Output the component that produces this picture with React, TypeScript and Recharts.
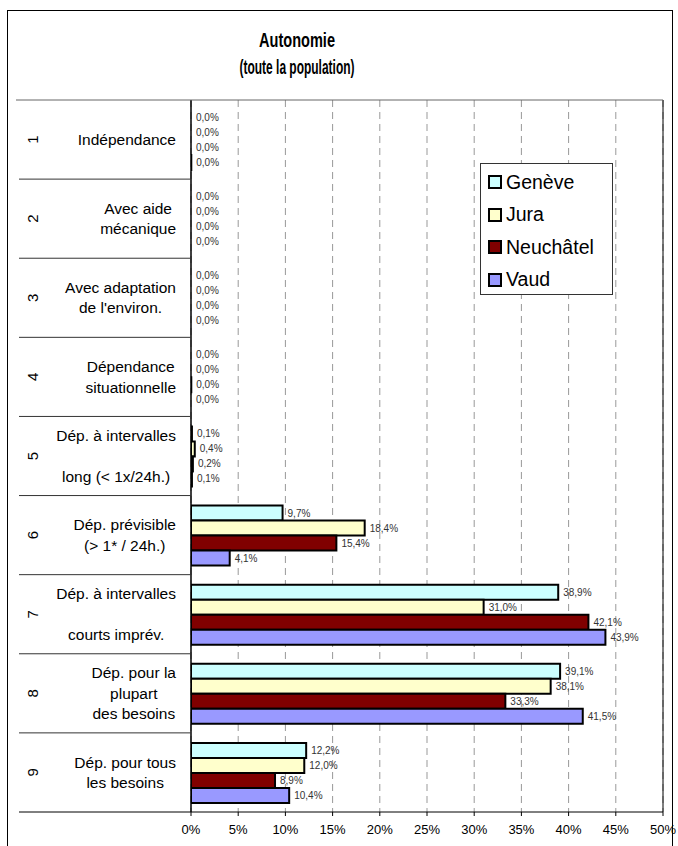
import React from "react";
import {
  BarChart,
  Bar,
  Cell,
  XAxis,
  YAxis,
  CartesianGrid,
  Legend,
  LabelList,
  ReferenceLine,
} from "recharts";

// categories (rotated number + multi-line label)
const categories = ["1", "2", "3", "4", "5", "6", "7", "8", "9"];
const categoryLabels: string[][] = [
  ["Indépendance"],
  ["Avec aide", "mécanique"],
  ["Avec adaptation", "de l'environ."],
  ["Dépendance", "situationnelle"],
  ["Dép. à intervalles", "", "long (< 1x/24h.)"],
  ["Dép. prévisible", "(> 1* / 24h.)"],
  ["Dép. à intervalles", "", "courts imprév."],
  ["Dép. pour la", "plupart", "des besoins"],
  ["Dép. pour tous", "les besoins"],
];

// values in %
const geneve = [0, 0, 0, 0, 0.1, 9.7, 38.9, 39.1, 12.2];
const jura = [0, 0, 0, 0, 0.4, 18.4, 31.0, 38.1, 12.0];
const neuchatel = [0, 0, 0, 0.03, 0.2, 15.4, 42.1, 33.3, 8.9];
const vaud = [0.03, 0, 0, 0, 0.1, 4.1, 43.9, 41.5, 10.4];

const xTicks = [0, 5, 10, 15, 20, 25, 30, 35, 40, 45, 50];

const series = [
  { key: "geneve", name: "Genève", color: "#CCFFFF", values: geneve },
  { key: "jura", name: "Jura", color: "#FFFFCC", values: jura },
  { key: "neuchatel", name: "Neuchâtel", color: "#800000", values: neuchatel },
  { key: "vaud", name: "Vaud", color: "#9999FF", values: vaud },
];

const data = categories.map((c, i) => ({
  name: c,
  geneve: geneve[i],
  jura: jura[i],
  neuchatel: neuchatel[i],
  vaud: vaud[i],
}));

const FONT = '"Liberation Sans", Arial, Helvetica, sans-serif';
const W = 678;
const H = 846;
const PLOT_LEFT = 191;
const PLOT_RIGHT = 663;
const PLOT_TOP = 100;
const PLOT_BOTTOM = 812;
const AXIS_LEFT = 19;
const BAND = (PLOT_BOTTOM - PLOT_TOP) / categories.length;
const LABEL_FONT = 15.5;
const LINE_H = 20.5;

let ctx: CanvasRenderingContext2D | null = null;
function textWidth(s: string, font: string) {
  if (!ctx && typeof document !== "undefined") {
    ctx = document.createElement("canvas").getContext("2d");
  }
  if (!ctx) return s.length * 8;
  ctx.font = font;
  return ctx.measureText(s).width;
}

const fmt = (v: any) => `${Number(v).toFixed(1).replace(".", ",")}%`;

function CategoryTick(props: any) {
  const { y, payload } = props;
  const idx = categories.indexOf(String(payload.value));
  const lines = categoryLabels[idx] || [];
  const font = `${LABEL_FONT}px ${FONT}`;
  const maxW = Math.max(...lines.map((l) => textWidth(l, font)));
  const cx = 176 - maxW / 2;
  const top = y - BAND / 2;
  return (
    <g>
      {idx === 0 ? (
        <line x1={16} x2={PLOT_RIGHT} y1={top} y2={top} stroke="#666" />
      ) : (
        <line x1={AXIS_LEFT} x2={PLOT_LEFT} y1={top} y2={top} stroke="#333" />
      )}
      {idx === categories.length - 1 && (
        <line x1={AXIS_LEFT} x2={PLOT_LEFT} y1={y + BAND / 2} y2={y + BAND / 2} stroke="#000" />
      )}
      <text
        x={33}
        y={y}
        dy="0.35em"
        transform={`rotate(-90 33 ${y})`}
        textAnchor="middle"
        fontSize={15}
        fontFamily={FONT}
        fill="#000"
      >
        {categories[idx]}
      </text>
      <text textAnchor="middle" fontSize={LABEL_FONT} fontFamily={FONT} fill="#000">
        {lines.map((l, i) => (
          <tspan key={i} x={cx} y={y + (i - (lines.length - 1) / 2) * LINE_H} dy="0.35em">
            {l}
          </tspan>
        ))}
      </text>
    </g>
  );
}

function LegendBox() {
  return (
    <div
      style={{
        border: "1px solid #333",
        background: "#fff",
        width: 133,
        height: 132,
        boxSizing: "border-box",
        paddingTop: 2,
        fontFamily: FONT,
      }}
    >
      {series.map((s) => (
        <div
          key={s.key}
          style={{ height: 32.5, display: "flex", alignItems: "center", paddingLeft: 7 }}
        >
          <span
            style={{
              display: "inline-block",
              width: 10,
              height: 10,
              background: s.color,
              border: "2px solid #000",
              marginRight: 4,
            }}
          />
          <span style={{ fontSize: 19.5, color: "#000" }}>{s.name}</span>
        </div>
      ))}
    </div>
  );
}

export default function App() {
  return (
    <div style={{ position: "absolute", left: 0, top: 0, width: W, height: H, background: "#fff", overflow: "hidden" }}>
      <div
        style={{
          position: "absolute",
          left: 7,
          top: 10,
          width: 666,
          height: 850,
          border: "1px solid #000",
          boxSizing: "border-box",
        }}
      />
      <div style={{ position: "absolute", left: 0, top: 0 }}>
        <BarChart
          width={W}
          height={H}
          data={data}
          layout="vertical"
          margin={{ top: PLOT_TOP, right: W - PLOT_RIGHT, bottom: 4, left: AXIS_LEFT }}
          barCategoryGap={10}
          barGap={0}
        >
          <CartesianGrid horizontal={false} stroke="#999" strokeDasharray="7 5" />
          <XAxis
            type="number"
            domain={[0, 50]}
            ticks={xTicks}
            tickFormatter={(v) => `${v}%`}
            tick={{ fontSize: 13, fill: "#000", fontFamily: FONT }}
            tickSize={4}
            tickMargin={9}
            axisLine={{ stroke: "#000" }}
            tickLine={{ stroke: "#000" }}
            height={30}
            allowDataOverflow
          />
          <YAxis
            type="category"
            dataKey="name"
            width={PLOT_LEFT - AXIS_LEFT}
            interval={0}
            tickLine={false}
            axisLine={{ stroke: "#000", strokeWidth: 1.5 }}
            tick={<CategoryTick />}
          />
          <ReferenceLine x={50} stroke="#000" />
          <Legend
            layout="vertical"
            align="center"
            verticalAlign="middle"
            wrapperStyle={{ left: 480, top: 163, width: 133, height: 132 }}
            content={() => <LegendBox />}
          />
          {series.map((s) => (
            <Bar
              key={s.key}
              dataKey={s.key}
              name={s.name}
              fill={s.color}
              stroke="#000"
              strokeWidth={2}
              minPointSize={0.01}
              isAnimationActive={false}
            >
              {s.values.map((v, i) => (
                <Cell key={i} stroke={v === 0 ? "none" : "#000"} />
              ))}
              <LabelList
                dataKey={s.key}
                position="right"
                offset={5}
                formatter={fmt}
                fontSize={10}
                fill="#333"
                fontFamily={FONT}
              />
            </Bar>
          ))}
        </BarChart>
      </div>
      <svg
        width={W}
        height={100}
        style={{ position: "absolute", left: 0, top: 0, pointerEvents: "none" }}
      >
        <text
          x={297}
          y={40}
          dy="0.35em"
          textAnchor="middle"
          fontFamily={FONT}
          fontWeight="bold"
          fontSize={20}
          textLength={76}
          lengthAdjust="spacingAndGlyphs"
        >
          Autonomie
        </text>
        <text
          x={297}
          y={67}
          dy="0.35em"
          textAnchor="middle"
          fontFamily={FONT}
          fontWeight="bold"
          fontSize={20}
          textLength={115}
          lengthAdjust="spacingAndGlyphs"
        >
          (toute la population)
        </text>
      </svg>
    </div>
  );
}
